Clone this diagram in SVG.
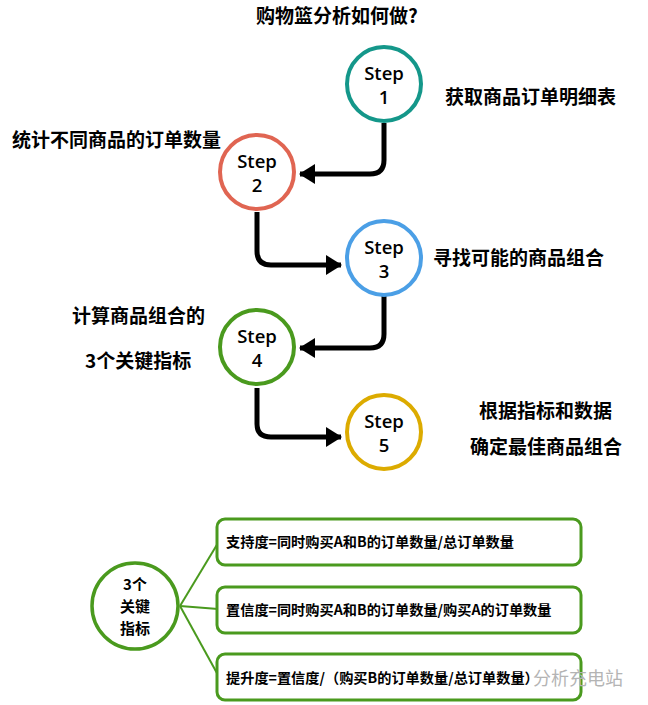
<svg xmlns="http://www.w3.org/2000/svg" width="648" height="705" viewBox="0 0 648 705">
<defs>
<style>
.cjk{font-family:"Noto Sans CJK SC","Liberation Sans",sans-serif;font-weight:700;fill:#000;}
.lbl{font-size:19px;}
.step{font-family:"Open Sans","Liberation Sans",sans-serif;font-size:18.5px;font-weight:600;fill:#000;text-anchor:middle;}
.circ{fill:#fff;stroke-width:4;}
.conn{fill:none;stroke:#000;stroke-width:5;}
.box{fill:#fff;stroke:#4a9a1e;stroke-width:3;}
.boxt{font-size:14.2px;}
.br{stroke:#4a9a1e;stroke-width:2;fill:none;}
.hubt{font-size:15px;text-anchor:middle;}
</style>
<marker id="ah" viewBox="0 0 16 20" refX="15" refY="10" markerWidth="3.2" markerHeight="4" orient="auto" markerUnits="strokeWidth" preserveAspectRatio="none">
<path d="M0,0 L16,10 L0,20 z" fill="#000"/>
</marker>
</defs>
<rect width="648" height="705" fill="#fff"/>
<text class="cjk" x="337" y="23" font-size="19" text-anchor="middle">购物篮分析如何做?</text>

<g id="connectors">
<path class="conn" d="M384,123 V160 Q384,174 370,174 H300" marker-end="url(#ah)"/>
<path class="conn" d="M257,212 V251 Q257,265 271,265 H341" marker-end="url(#ah)"/>
<path class="conn" d="M384,296 V334 Q384,348 370,348 H300" marker-end="url(#ah)"/>
<path class="conn" d="M257,388 V424 Q257,437 271,437 H341" marker-end="url(#ah)"/>
</g>

<g id="step1">
<circle class="circ" cx="384" cy="84" r="37" stroke="#14978a"/>
<text class="step" x="384" y="80">Step</text>
<text class="step" x="384" y="104">1</text>
<text class="cjk lbl" x="445" y="104">获取商品订单明细表</text>
</g>
<g id="step2">
<circle class="circ" cx="257" cy="172" r="37" stroke="#e06552"/>
<text class="step" x="257" y="168">Step</text>
<text class="step" x="257" y="192">2</text>
<text class="cjk lbl" x="12" y="147">统计不同商品的订单数量</text>
</g>
<g id="step3">
<circle class="circ" cx="384" cy="258" r="37" stroke="#4b9fe6"/>
<text class="step" x="384" y="254">Step</text>
<text class="step" x="384" y="278">3</text>
<text class="cjk lbl" x="433" y="265">寻找可能的商品组合</text>
</g>
<g id="step4">
<circle class="circ" cx="257" cy="347" r="37" stroke="#4a9a1e"/>
<text class="step" x="257" y="343">Step</text>
<text class="step" x="257" y="367">4</text>
<text class="cjk lbl" x="72" y="323">计算商品组合的</text>
<text class="cjk lbl" x="85" y="368">3个关键指标</text>
</g>
<g id="step5">
<circle class="circ" cx="384" cy="432" r="37" stroke="#dcab00"/>
<text class="step" x="384" y="428">Step</text>
<text class="step" x="384" y="452">5</text>
<text class="cjk lbl" x="479" y="418">根据指标和数据</text>
<text class="cjk lbl" x="470" y="454">确定最佳商品组合</text>
</g>

<g id="branches">
<path class="br" d="M180,606 L218,543"/>
<path class="br" d="M180,606 L218,609"/>
<path class="br" d="M180,606 L218,675"/>
</g>

<g id="hub">
<circle cx="135" cy="606" r="43" fill="#fff" stroke="#4a9a1e" stroke-width="3.5"/>
<text class="cjk hubt" x="135" y="590">3个</text>
<text class="cjk hubt" x="135" y="612">关键</text>
<text class="cjk hubt" x="135" y="634">指标</text>
</g>

<g id="box1">
<rect class="box" x="217" y="519" width="364" height="46" rx="8"/>
<text class="cjk boxt" x="226" y="547">支持度=同时购买A和B的订单数量/总订单数量</text>
</g>
<g id="box2">
<rect class="box" x="217" y="587" width="364" height="46" rx="8"/>
<text class="cjk boxt" x="226" y="615">置信度=同时购买A和B的订单数量/购买A的订单数量</text>
</g>
<g id="box3">
<rect class="box" x="217" y="654" width="364" height="46" rx="8"/>
<text x="533" y="685" font-family="Noto Sans CJK SC,sans-serif" font-size="18" fill="#b4b4b4">分析充电站</text>
<text class="cjk boxt" x="226" y="683">提升度=置信度/（购买B的订单数量/总订单数量）</text>
</g>
</svg>
